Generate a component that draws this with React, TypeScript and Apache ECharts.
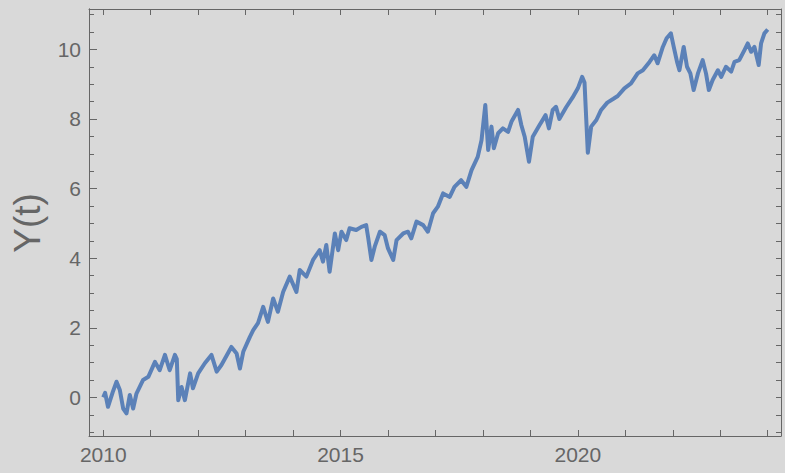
import React, { useEffect, useRef } from "react";
import * as echarts from "echarts";

const years: number[] = [
  2010.0, 2010.04, 2010.1, 2010.2, 2010.28, 2010.35, 2010.42, 2010.49, 2010.56, 2010.63,
  2010.7, 2010.84, 2010.95, 2011.09, 2011.19, 2011.3, 2011.4, 2011.51, 2011.55, 2011.58,
  2011.65, 2011.72, 2011.83, 2011.89, 2012.0, 2012.14, 2012.28, 2012.39, 2012.49, 2012.7,
  2012.81, 2012.88, 2012.95, 2013.09, 2013.16, 2013.26, 2013.37, 2013.47, 2013.58, 2013.68, 2013.79,
  2013.93, 2014.07, 2014.14, 2014.28, 2014.42, 2014.56, 2014.63, 2014.7, 2014.77, 2014.88,
  2014.95, 2015.02, 2015.12, 2015.19, 2015.33, 2015.44, 2015.54, 2015.58, 2015.65, 2015.72,
  2015.83, 2015.93, 2016.0, 2016.11, 2016.18, 2016.32, 2016.42, 2016.49, 2016.6, 2016.74,
  2016.84, 2016.95, 2017.05, 2017.16, 2017.3, 2017.4, 2017.54, 2017.65, 2017.76, 2017.89,
  2017.97, 2018.05, 2018.11, 2018.18, 2018.23, 2018.32, 2018.42, 2018.53, 2018.6, 2018.74,
  2018.81, 2018.88, 2018.97, 2019.05, 2019.19, 2019.32, 2019.39, 2019.47, 2019.54, 2019.61,
  2019.75, 2019.89, 2020.0, 2020.09, 2020.14, 2020.21, 2020.28, 2020.39, 2020.49, 2020.62,
  2020.75, 2020.84, 2020.98, 2021.12, 2021.26, 2021.37, 2021.51, 2021.61, 2021.68, 2021.79,
  2021.87, 2021.96, 2022.02, 2022.09, 2022.14, 2022.23, 2022.3, 2022.37, 2022.44, 2022.53,
  2022.63, 2022.7, 2022.76, 2022.84, 2022.95, 2023.02, 2023.12, 2023.23, 2023.3, 2023.4,
  2023.51, 2023.58, 2023.65, 2023.72, 2023.81, 2023.86, 2023.93, 2024.0,
];

const values: number[] = [
  0.0, 0.13, -0.27, 0.15, 0.45, 0.21, -0.32, -0.46, 0.07, -0.32,
  0.11, 0.5, 0.59, 1.02, 0.78, 1.22, 0.78, 1.22, 1.1, -0.08,
  0.3, -0.08, 0.69, 0.26, 0.69, 0.98, 1.22, 0.74, 0.93, 1.45,
  1.26, 0.83, 1.31, 1.74, 1.93, 2.13, 2.6, 2.17, 2.84, 2.46, 3.03,
  3.47, 3.03, 3.66, 3.47, 3.95, 4.23, 3.9, 4.38, 3.61, 4.71,
  4.23, 4.76, 4.52, 4.86, 4.81, 4.9, 4.95, 4.61, 3.95, 4.33,
  4.76, 4.66, 4.28, 3.95, 4.52, 4.71, 4.76, 4.57, 5.05, 4.95,
  4.76, 5.29, 5.48, 5.86, 5.76, 6.05, 6.24, 6.05, 6.53, 6.91,
  7.39, 8.4, 7.11, 7.78, 7.16, 7.59, 7.73, 7.63, 7.92, 8.26,
  7.82, 7.49, 6.77, 7.49, 7.82, 8.11, 7.73, 8.26, 8.35, 8.0,
  8.33, 8.62, 8.88, 9.21, 9.05, 7.03, 7.78, 7.97, 8.26, 8.47,
  8.58, 8.66, 8.88, 9.02, 9.31, 9.4, 9.64, 9.83, 9.6, 10.07,
  10.32, 10.46, 10.07, 9.64, 9.4, 10.07, 9.5, 9.31, 8.83, 9.31,
  9.69, 9.31, 8.83, 9.12, 9.4, 9.21, 9.5, 9.36, 9.64, 9.69,
  9.98, 10.17, 9.93, 10.07, 9.55, 10.17, 10.46, 10.57,
];

const xTickYears: number[] = [2010, 2011, 2012, 2013, 2014, 2015, 2016, 2017, 2018, 2019, 2020, 2021, 2022, 2023, 2024];
const xLabelYears: number[] = [2010, 2015, 2020];
const yMajor: number[] = [0, 2, 4, 6, 8, 10];
const yMinor: number[] = [-1, -0.5, 0, 0.5, 1, 1.5, 2, 2.5, 3, 3.5, 4, 4.5, 5, 5.5, 6, 6.5, 7, 7.5, 8, 8.5, 9, 9.5, 10, 10.5, 11];
const yAxisTitle = "Y(t)";

const AXIS_COLOR = "#666666";
const FONT = "Liberation Sans, Arial, sans-serif";

export default function App() {
  const ref = useRef<HTMLDivElement>(null);
  useEffect(() => {
    if (!ref.current) return;
    const chart = echarts.init(ref.current, undefined, { renderer: "svg" });
    const xMin = 2009.7;
    const xMax = 2024.28;
    const yMin = -1.11;
    const yMax = 11.16;
    const baseLine = { show: true, onZero: false, lineStyle: { color: AXIS_COLOR, width: 1 } };
    chart.setOption({
      animation: false,
      backgroundColor: "#d9d9d9",
      grid: { left: 89, top: 9, width: 692, height: 427, show: false, containLabel: false },
      graphic: [
        {
          type: "text",
          x: 27,
          y: 223,
          rotation: Math.PI / 2,
          style: {
            text: yAxisTitle,
            fontSize: 37,
            fontFamily: FONT,
            fill: AXIS_COLOR,
            textAlign: "center",
            textVerticalAlign: "middle",
          },
        },
      ],
      xAxis: [
        {
          type: "value",
          min: xMin,
          max: xMax,
          position: "bottom",
          axisLine: baseLine,
          splitLine: { show: false },
          axisTick: { show: true, inside: true, length: 6, customValues: xTickYears, lineStyle: { color: AXIS_COLOR } },
          axisLabel: {
            show: true,
            customValues: xLabelYears,
            formatter: (v: number) => String(Math.round(v)),
            fontSize: 21,
            fontFamily: FONT,
            color: AXIS_COLOR,
            margin: 8,
          },
        },
        {
          type: "value",
          min: xMin,
          max: xMax,
          position: "top",
          axisLine: baseLine,
          splitLine: { show: false },
          axisTick: { show: true, inside: true, length: 6, customValues: xTickYears, lineStyle: { color: AXIS_COLOR } },
          axisLabel: { show: false },
        },
      ],
      yAxis: [
        {
          type: "value",
          min: yMin,
          max: yMax,
          position: "left",
          axisLine: baseLine,
          splitLine: { show: false },
          axisTick: { show: true, inside: true, length: 8, customValues: yMajor, lineStyle: { color: AXIS_COLOR } },
          axisLabel: {
            show: true,
            customValues: yMajor,
            formatter: (v: number) => String(Math.round(v)),
            fontSize: 21,
            fontFamily: FONT,
            color: AXIS_COLOR,
            margin: 8,
          },
        },
        {
          type: "value",
          min: yMin,
          max: yMax,
          position: "left",
          axisLine: baseLine,
          splitLine: { show: false },
          axisTick: { show: true, inside: true, length: 5, customValues: yMinor, lineStyle: { color: AXIS_COLOR } },
          axisLabel: { show: false },
        },
        {
          type: "value",
          min: yMin,
          max: yMax,
          position: "right",
          axisLine: baseLine,
          splitLine: { show: false },
          axisTick: { show: true, inside: true, length: 5, customValues: yMinor, lineStyle: { color: AXIS_COLOR } },
          axisLabel: { show: false },
        },
      ],
      series: [
        {
          type: "line",
          xAxisIndex: 0,
          yAxisIndex: 0,
          data: years.map((yr, i) => [yr, values[i]]),
          showSymbol: false,
          symbol: "none",
          lineStyle: { color: "#5b81b8", width: 4, join: "round" },
          itemStyle: { color: "#5b81b8" },
        },
      ],
    });
    return () => chart.dispose();
  }, []);
  return (
    <div
      ref={ref}
      style={{ position: "fixed", left: 0, top: 0, width: 785, height: 473, background: "#d9d9d9" }}
    />
  );
}
